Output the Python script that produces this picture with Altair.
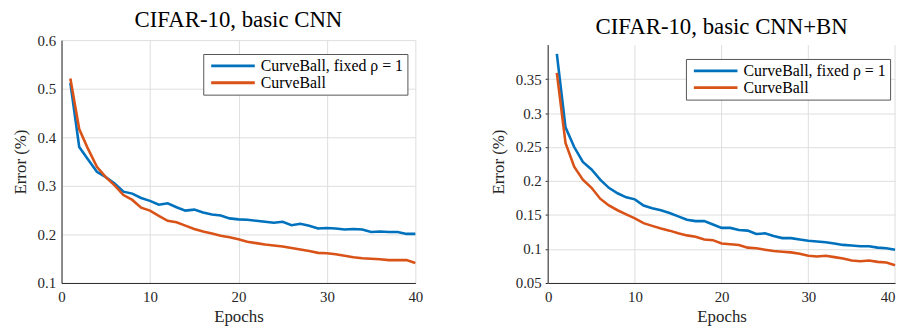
import altair as alt
import pandas as pd

# ---------------- data ----------------
epochs = list(range(1, 41))
series_names = ["CurveBall, fixed ρ = 1", "CurveBall"]
series_colors = ["#0072BD", "#D95319"]

cnn_fixed = [0.512, 0.380, 0.354, 0.329, 0.318, 0.305, 0.288, 0.284, 0.275, 0.269,
             0.261, 0.264, 0.256, 0.249, 0.251, 0.245, 0.241, 0.239, 0.233, 0.231,
             0.230, 0.228, 0.226, 0.224, 0.226, 0.219, 0.222, 0.218, 0.212, 0.213,
             0.212, 0.210, 0.211, 0.210, 0.205, 0.206, 0.205, 0.205, 0.201, 0.201]
cnn_curveball = [0.521, 0.417, 0.376, 0.339, 0.318, 0.301, 0.281, 0.271, 0.255, 0.249,
                 0.238, 0.228, 0.225, 0.218, 0.211, 0.206, 0.202, 0.197, 0.194, 0.190,
                 0.185, 0.182, 0.179, 0.177, 0.175, 0.172, 0.169, 0.166, 0.162, 0.161,
                 0.159, 0.156, 0.153, 0.151, 0.150, 0.149, 0.147, 0.147, 0.147, 0.141]
bn_fixed = [0.387, 0.279, 0.250, 0.228, 0.217, 0.202, 0.190, 0.182, 0.176, 0.173,
            0.164, 0.160, 0.157, 0.153, 0.148, 0.143, 0.141, 0.141, 0.136, 0.131,
            0.131, 0.128, 0.127, 0.122, 0.123, 0.119, 0.116, 0.116, 0.114, 0.112,
            0.111, 0.110, 0.108, 0.106, 0.105, 0.104, 0.104, 0.102, 0.101, 0.099]
bn_curveball = [0.359, 0.256, 0.221, 0.202, 0.190, 0.174, 0.164, 0.157, 0.151, 0.145,
                0.138, 0.134, 0.130, 0.127, 0.123, 0.120, 0.118, 0.114, 0.113, 0.108,
                0.107, 0.106, 0.102, 0.101, 0.099, 0.097, 0.096, 0.095, 0.093, 0.090,
                0.089, 0.090, 0.088, 0.086, 0.083, 0.082, 0.083, 0.081, 0.080, 0.076]

titles = ["CIFAR-10, basic CNN", "CIFAR-10, basic CNN+BN"]
x_ticks = [0, 10, 20, 30, 40]
cnn_y_ticks = [0.1, 0.2, 0.3, 0.4, 0.5, 0.6]
bn_y_ticks = [0.05, 0.1, 0.15, 0.2, 0.25, 0.3, 0.35]
bn_y_top = 0.4

FONT = "Liberation Serif"
AXIS_C = "#262626"
GRID_C = "#dedede"


def long_df(fixed, curve):
    return pd.DataFrame({
        "epoch": epochs * 2,
        "error": fixed + curve,
        "method": [series_names[0]] * len(epochs) + [series_names[1]] * len(epochs),
        "order": [0] * len(epochs) + [1] * len(epochs),
    })


def make_legend(lx, ly):
    return alt.Legend(
        title=None, orient="none", legendX=lx, legendY=ly,
        symbolType="M-4.4,0H4.4", symbolSize=100, symbolStrokeWidth=2.8,
        symbolOffset=18, labelOffset=20,
        labelFont=FONT, labelFontSize=16, labelColor="black", labelLimit=0,
        strokeColor="#555555", fillColor="white", padding=4, rowPadding=1,
        cornerRadius=0,
    )


# ---------------- left panel ----------------
x_axis_l = alt.Axis(values=x_ticks, title="Epochs", format="d", ticks=False,
                    labelPadding=7, titlePadding=4, grid=True, labelFlush=False)
y_axis_l = alt.Axis(values=cnn_y_ticks, title="Error (%)", format="~g", ticks=False,
                    labelPadding=6, titlePadding=8, grid=True)

left = alt.Chart(long_df(cnn_fixed, cnn_curveball)).mark_line(strokeWidth=2.6).encode(
    x=alt.X("epoch:Q", scale=alt.Scale(domain=[0, 40], nice=False), axis=x_axis_l),
    y=alt.Y("error:Q", scale=alt.Scale(domain=[0.1, 0.6], nice=False, zero=False), axis=y_axis_l),
    color=alt.Color("method:N", scale=alt.Scale(domain=series_names, range=series_colors),
                    legend=make_legend(143, 14)),
    order="order:Q",
).properties(
    width=357, height=245,
    title=alt.TitleParams(titles[0], font=FONT, fontSize=23, fontWeight="normal",
                          color="black", anchor="middle", offset=1),
)

# ---------------- right panel ----------------
x_axis_r = alt.Axis(values=x_ticks, title="Epochs", format="d", ticks=False,
                    labelPadding=7, titlePadding=4, grid=False, labelFlush=False,
                    labelAlign=alt.expr("datum.value == 40 ? 'right' : 'center'"))
y_axis_r = alt.Axis(values=bn_y_ticks, title="Error (%)", format="~g", ticks=True,
                    tickSize=3, tickColor=AXIS_C, labelPadding=4, titlePadding=8,
                    grid=True, domain=False)
x_scale_r = alt.Scale(domain=[0, 40], nice=False)
y_scale_r = alt.Scale(domain=[0.05, 0.4073], nice=False, zero=False)

grid_df = pd.DataFrame({"epoch": x_ticks, "error": [0.05] * len(x_ticks),
                        "error2": [bn_y_top] * len(x_ticks)})
domain_df = pd.DataFrame({"epoch": [0], "error": [0.05], "error2": [bn_y_top]})

r_grid = alt.Chart(grid_df).mark_rule(color=GRID_C, strokeWidth=1).encode(
    x=alt.X("epoch:Q", scale=x_scale_r, axis=x_axis_r),
    y=alt.Y("error:Q", scale=y_scale_r, axis=y_axis_r),
    y2="error2:Q",
)
r_domain = alt.Chart(domain_df).mark_rule(color=AXIS_C, strokeWidth=1).encode(
    x=alt.X("epoch:Q", scale=x_scale_r, axis=x_axis_r),
    y=alt.Y("error:Q", scale=y_scale_r, axis=y_axis_r),
    y2="error2:Q",
)
r_lines = alt.Chart(long_df(bn_fixed, bn_curveball)).mark_line(strokeWidth=2.6).encode(
    x=alt.X("epoch:Q", scale=x_scale_r, axis=x_axis_r),
    y=alt.Y("error:Q", scale=y_scale_r, axis=y_axis_r),
    color=alt.Color("method:N", scale=alt.Scale(domain=series_names, range=series_colors),
                    legend=make_legend(139, 19)),
    order="order:Q",
)
right = alt.layer(r_grid, r_domain, r_lines).properties(
    width=350, height=245,
    title=alt.TitleParams(titles[1], font=FONT, fontSize=23, fontWeight="normal",
                          color="black", anchor="middle", offset=1),
)

chart = alt.hconcat(left, right, spacing=66).resolve_scale(
    color="independent"
).properties(
    padding={"left": 3, "top": 0, "right": 0, "bottom": 0}
).configure_view(stroke=None).configure_axis(
    labelFont=FONT, labelFontSize=15, labelColor=AXIS_C,
    titleFont=FONT, titleFontSize=17, titleFontWeight="normal", titleColor=AXIS_C,
    domainColor=AXIS_C, domainWidth=1, gridColor=GRID_C, gridWidth=1,
)

chart.save("out.html", embed_options={"renderer": "svg", "actions": False})
